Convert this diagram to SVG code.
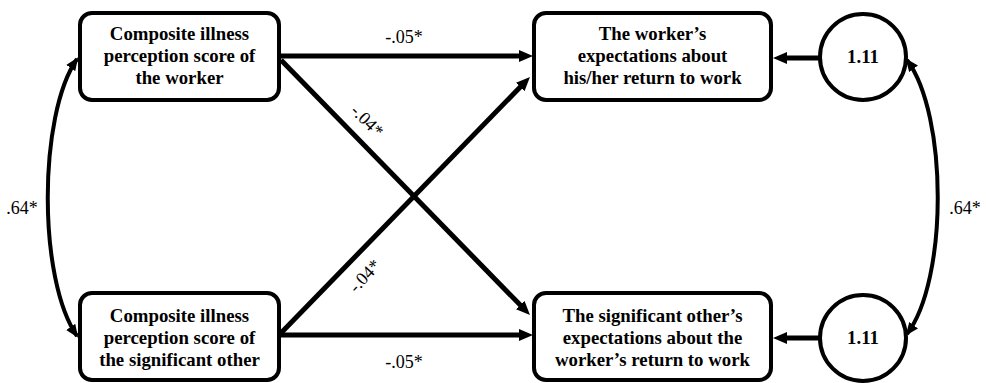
<svg xmlns="http://www.w3.org/2000/svg" width="986" height="383" viewBox="0 0 986 383">
<defs>
<style>
.box{fill:#fff;stroke:#000;stroke-width:4}
.t{font-family:'Liberation Serif','Times New Roman',serif;font-weight:bold;font-size:18.8px;text-anchor:middle;fill:#000}
.lab{font-family:'Liberation Serif','Times New Roman',serif;font-size:18px;text-anchor:middle;fill:#000}
.ln{fill:none;stroke:#000;stroke-width:5}
.cv{fill:none;stroke:#000;stroke-width:4}
</style>
<marker id="ah" viewBox="0 0 14 12" refX="6" refY="6" markerWidth="14" markerHeight="12" markerUnits="userSpaceOnUse" orient="auto">
<path d="M0,0 L14,6 L0,12 z" fill="#000"/>
</marker>
<marker id="ac" viewBox="0 0 13 11" refX="11" refY="5.5" markerWidth="13" markerHeight="11" markerUnits="userSpaceOnUse" orient="auto-start-reverse">
<path d="M0,0 L13,5.5 L0,11 z" fill="#000"/>
</marker>
</defs>
<g id="connectors">
<line class="ln" x1="281" y1="56" x2="525" y2="56" marker-end="url(#ah)"/>
<line class="ln" x1="281" y1="335" x2="525" y2="335" marker-end="url(#ah)"/>
<line class="ln" x1="281" y1="60" x2="524.4" y2="309.3" marker-end="url(#ah)"/>
<line class="ln" x1="281" y1="333" x2="524.4" y2="82.7" marker-end="url(#ah)"/>
<line class="ln" x1="820" y1="58" x2="781" y2="58" marker-end="url(#ah)"/>
<line class="ln" x1="820" y1="338" x2="781" y2="338" marker-end="url(#ah)"/>
<path class="cv" d="M77 59 C38 115, 38 280, 77 336" marker-start="url(#ac)" marker-end="url(#ac)"/>
<path class="cv" d="M907 60 C948 115, 948 280, 907 334" marker-start="url(#ac)" marker-end="url(#ac)"/>
<text class="lab" x="404" y="43">-.05*</text>
<text class="lab" x="404" y="368">-.05*</text>
<text class="lab" transform="translate(363,125) rotate(45)">-.04*</text>
<text class="lab" transform="translate(369,280) rotate(-47)">-.04*</text>
<text class="lab" x="22" y="214">.64*</text>
<text class="lab" x="965" y="214">.64*</text>
</g>
<g id="n1">
<rect class="box" x="80" y="13" width="199" height="87" rx="12"/>
<text class="t" x="179.5" y="40">Composite illness</text>
<text class="t" x="179.5" y="62">perception score of</text>
<text class="t" x="179.5" y="84">the worker</text>
</g>
<g id="n2">
<rect class="box" x="80" y="293" width="199" height="87" rx="12"/>
<text class="t" x="179.5" y="322">Composite illness</text>
<text class="t" x="179.5" y="344">perception score of</text>
<text class="t" x="179.5" y="366">the significant other</text>
</g>
<g id="n3">
<rect class="box" x="534" y="13" width="237" height="87" rx="12"/>
<text class="t" x="652.5" y="40">The worker’s</text>
<text class="t" x="652.5" y="62">expectations about</text>
<text class="t" x="652.5" y="84">his/her return to work</text>
</g>
<g id="n4">
<rect class="box" x="534" y="293" width="237" height="87" rx="12"/>
<text class="t" x="652.5" y="322">The significant other’s</text>
<text class="t" x="652.5" y="344">expectations about the</text>
<text class="t" x="652.5" y="366">worker’s return to work</text>
</g>
<g id="e1">
<circle class="box" cx="863" cy="57" r="43"/>
<text class="t" x="863" y="63">1.11</text>
</g>
<g id="e2">
<circle class="box" cx="863" cy="338" r="43"/>
<text class="t" x="863" y="344">1.11</text>
</g>
</svg>
